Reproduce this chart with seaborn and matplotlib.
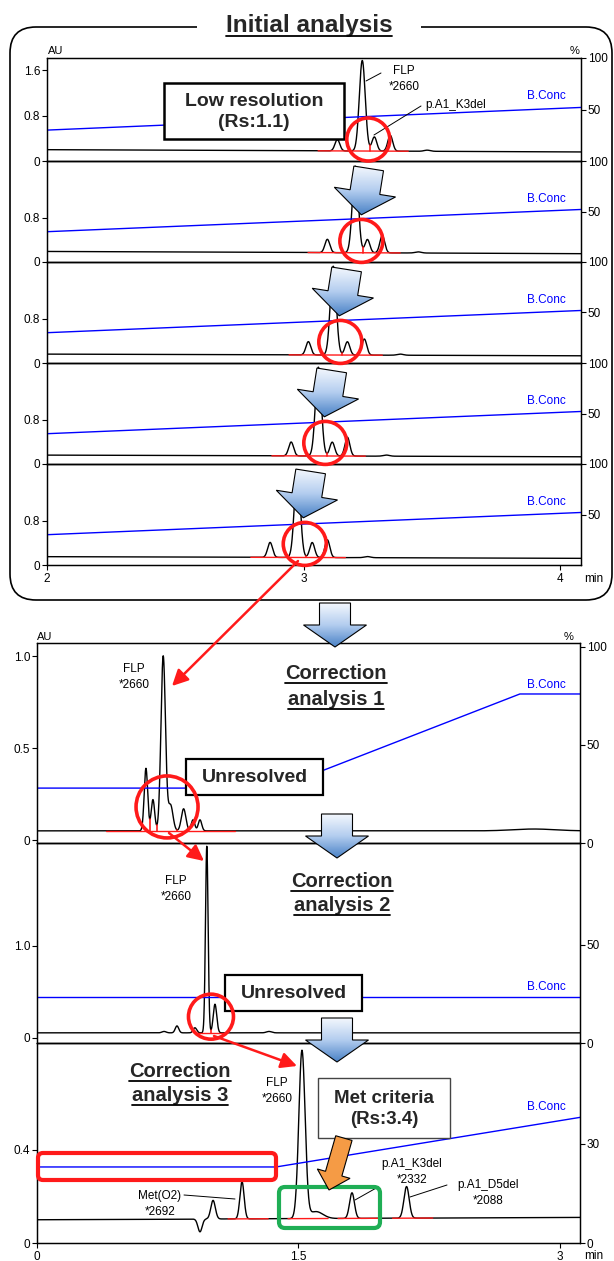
import numpy as np
import pandas as pd
import matplotlib.pyplot as plt
import matplotlib.patches as mpatches
from matplotlib.colors import LinearSegmentedColormap
import seaborn as sns

W, H = 614, 1261

# ---------------- values ----------------
# Initial analysis, five runs. Peak order: pre-peak, FLP, p.A1_K3del, post-peak, small bump
init_peak_t = [
    [3.131, 3.228, 3.275, 3.337, 3.481],
    [3.092, 3.201, 3.248, 3.306, 3.446],
    [3.018, 3.115, 3.170, 3.236, 3.376],
    [2.951, 3.057, 3.111, 3.170, 3.322],
    [2.869, 2.975, 3.033, 3.092, 3.248],
]
init_peak_h = [
    [0.20, 1.60, 0.25, 0.28, 0.02],
    [0.24, 1.56, 0.24, 0.31, 0.02],
    [0.24, 1.60, 0.24, 0.29, 0.02],
    [0.25, 1.60, 0.25, 0.34, 0.02],
    [0.27, 1.58, 0.27, 0.32, 0.02],
]
init_peak_w = [0.0095, 0.0115, 0.0095, 0.0095, 0.012]
init_baseline = [[0.20, 0.16], [0.19, 0.15], [0.16, 0.13], [0.16, 0.13], [0.15, 0.12]]
init_time = [2.0, 4.08]
init_conc = [30, 52]
init_au_ticks = [[0, 0.8, 1.6], [0, 0.8], [0, 0.8], [0, 0.8], [0, 0.8]]
init_pct_ticks = [50, 100]
init_x_ticks = [2, 3, 4]

# Correction analysis 1
c1_peak_t = [0.625, 0.665, 0.724, 0.766, 0.841, 0.895, 0.935, 2.85]
c1_peak_h = [0.34, 0.17, 0.95, 0.14, 0.12, 0.06, 0.06, 0.01]
c1_peak_w = [0.010, 0.010, 0.013, 0.014, 0.013, 0.010, 0.010, 0.12]
c1_baseline = [0.05, 0.05]
c1_conc_t = [0.0, 1.38, 2.77, 3.115]
c1_conc = [28, 28, 76, 76]

# Correction analysis 2
c2_peak_t = [0.729, 0.803, 0.906, 0.974, 1.021, 1.331]
c2_peak_h = [0.015, 0.075, 0.055, 2.02, 0.31, 0.015]
c2_peak_w = [0.012, 0.010, 0.010, 0.0075, 0.010, 0.015]
c2_baseline = [0.055, 0.055]
c2_conc_t = [0.0, 3.115]
c2_conc = [23.5, 23.5]

# Correction analysis 3. Peak order: dip, small peak, Met(O2), FLP, FLP tail, p.A1_K3del, p.A1_D5del
c3_peak_t = [0.935, 1.010, 1.176, 1.520, 1.600, 1.807, 2.120]
c3_peak_h = [-0.055, 0.08, 0.16, 0.72, 0.03, 0.11, 0.136]
c3_peak_w = [0.012, 0.013, 0.012, 0.018, 0.04, 0.014, 0.015]
c3_baseline = [0.10, 0.11]
c3_conc_t = [0.0, 1.371, 3.115]
c3_conc = [23, 23, 38]
c_time = [0.0, 3.115]
c3_x_ticks = [0, 1.5, 3]

RED = '#ff1a1a'
BLUE = '#0000ff'

sns.set_style('white')
FONT = ['Liberation Sans', 'DejaVu Sans']
plt.rcParams['font.family'] = FONT
plt.rcParams['axes.edgecolor'] = 'black'
plt.rcParams['axes.linewidth'] = 0.9

fig = plt.figure(figsize=(W / 100, H / 100), dpi=100)


def chromatogram(t, pk_t, pk_h, pk_w, base, t_lim):
    y = np.interp(t, t_lim, base)
    for c, h, w in zip(pk_t, pk_h, pk_w):
        y = y + h * np.exp(-0.5 * ((t - c) / w) ** 2)
    return y


def fmt(v):
    return '0' if v == 0 else ('%g' % v if v != int(v) else '%d' % v)


def panel(box, t_lim, au_lim, pct_lim, pk_t, pk_h, pk_w, base, conc_t, conc_v,
          au_ticks, au_labels, pct_ticks, x_ticks=None, x_labels=None):
    left, top, right, bottom = box
    ax = fig.add_axes([left / W, 1 - bottom / H, (right - left) / W, (bottom - top) / H])
    t = np.linspace(t_lim[0], t_lim[1], 5000)
    sig = chromatogram(t, pk_t, pk_h, pk_w, base, t_lim)
    sns.lineplot(x=t, y=sig, ax=ax, color='black', lw=1.0, estimator=None)
    ax2 = ax.twinx()
    sns.lineplot(x=conc_t, y=conc_v, ax=ax2, color=BLUE, lw=1.0, estimator=None)
    ax.set_xlim(t_lim)
    ax.set_ylim(au_lim)
    ax2.set_ylim(pct_lim)
    ax.set_yticks(au_ticks)
    ax.set_yticklabels(au_labels)
    ax2.set_yticks(pct_ticks)
    ax2.set_yticklabels([str(v) for v in pct_ticks])
    if x_ticks is None:
        ax.set_xticks([])
    else:
        ax.set_xticks(x_ticks)
        ax.set_xticklabels(x_labels)
    for a in (ax, ax2):
        a.set_xlabel('')
        a.set_ylabel('')
        a.tick_params(length=3.5, width=0.8, pad=1.5, labelsize=8.5, colors='black')
        for s in a.spines.values():
            s.set_color('black')
            s.set_linewidth(0.9)
    ax.tick_params(axis='y', left=True)
    ax.tick_params(axis='x', bottom=x_ticks is not None, pad=2.5, labelsize=8.5)
    ax2.tick_params(axis='y', right=True)
    ax.patch.set_visible(False)
    return ax, t, sig


def integrate_marks(ax, t, sig, base, t_lim, seg, drops):
    bl = lambda x: np.interp(x, t_lim, base)
    for a, b in seg:
        ax.plot([a, b], [bl(a), bl(b)], color=RED, lw=1.0, zorder=3)
    for ta, tb in drops:
        m = (t >= ta) & (t <= tb)
        i = np.argmin(sig[m])
        tv, yv = t[m][i], sig[m][i]
        ax.plot([tv, tv], [bl(tv), yv], color=RED, lw=1.2, zorder=3)


# ---------------- initial analysis panels ----------------
bounds = [58, 161, 262, 363, 464, 565]
init_axes = []
for i in range(5):
    xt = init_x_ticks if i == 4 else None
    ax, t, sig = panel((47, bounds[i], 581, bounds[i + 1]), init_time, (0, 1.82), (0, 100),
                       init_peak_t[i], init_peak_h[i], init_peak_w, init_baseline[i],
                       init_time, init_conc, init_au_ticks[i], [fmt(v) for v in init_au_ticks[i]],
                       init_pct_ticks, xt, None if xt is None else [str(v) for v in xt])
    pt = init_peak_t[i]
    integrate_marks(ax, t, sig, init_baseline[i], init_time,
                    [(pt[0] - 0.075, pt[3] + 0.07)], [(pt[1], pt[2])])
    init_axes.append(ax)

# ---------------- correction panels ----------------
ax_c1, t1, s1 = panel((37, 643, 580, 843), c_time, (-0.016, 1.071), (1, 102),
                      c1_peak_t, c1_peak_h, c1_peak_w, c1_baseline, c1_conc_t, c1_conc,
                      [0, 0.5, 1.0], ['0', '0.5', '1.0'], [0, 50, 100])
integrate_marks(ax_c1, t1, s1, c1_baseline, c_time, [(0.395, 1.136)],
                [(c1_peak_t[0], c1_peak_t[1]), (c1_peak_t[1], c1_peak_t[2]), (c1_peak_t[3], c1_peak_t[4])])

ax_c2, t2, s2 = panel((37, 843, 580, 1043), c_time, (-0.055, 2.11), (0, 102),
                      c2_peak_t, c2_peak_h, c2_peak_w, c2_baseline, c2_conc_t, c2_conc,
                      [0, 1.0], ['0', '1.0'], [0, 50])
integrate_marks(ax_c2, t2, s2, c2_baseline, c_time, [(0.92, 1.08)], [(c2_peak_t[3], c2_peak_t[4])])

ax_c3, t3, s3 = panel((37, 1043, 580, 1243), c_time, (0, 0.86), (0, 60.5),
                      c3_peak_t, c3_peak_h, c3_peak_w, c3_baseline, c3_conc_t, c3_conc,
                      [0, 0.4], ['0', '0.4'], [0, 30], c3_x_ticks, ['0', '1.5', '3'])
integrate_marks(ax_c3, t3, s3, c3_baseline, c_time,
                [(c3_peak_t[k] - 0.08, c3_peak_t[k] + 0.15) for k in (2, 3, 5, 6)], [])


def px_of(ax, x, y):
    dx, dy = ax.transData.transform((x, y))
    return dx, H - dy


# ---------------- overlay with annotations ----------------
ov = fig.add_axes([0, 0, 1, 1])
ov.set_xlim(0, W)
ov.set_ylim(H, 0)
ov.set_autoscale_on(False)
ov.axis('off')
renderer = fig.canvas.get_renderer()

ov.add_patch(mpatches.FancyBboxPatch((10, 27), 602, 573, boxstyle='round,pad=0,rounding_size=26',
                                     fc='none', ec='black', lw=1.2, zorder=1))
ov.add_patch(mpatches.Rectangle((197, 17), 224, 20, fc='white', ec='none', zorder=2))


def heading(x, y, s, size, gap=3.5):
    txt = ov.text(x, y, s, ha='center', va='baseline', fontsize=size, fontweight='bold', zorder=6)
    bb = txt.get_window_extent(renderer=renderer)
    ov.plot([bb.x0, bb.x1], [y + gap, y + gap], color='black', lw=1.3, zorder=6)


heading(309, 32, 'Initial analysis', 17.5)
heading(336, 679, 'Correction', 14.5)
heading(336, 705, 'analysis 1', 14.5)
heading(342, 887, 'Correction', 14.5)
heading(342, 911, 'analysis 2', 14.5)
heading(180, 1077, 'Correction', 14.5)
heading(180, 1101, 'analysis 3', 14.5)


def note(x0, y0, x1, y1, s, size, ec='black', lw=1.6):
    ov.add_patch(mpatches.Rectangle((x0, y0), x1 - x0, y1 - y0, fc='white', ec=ec, lw=lw, zorder=5))
    ov.text((x0 + x1) / 2, (y0 + y1) / 2 + 1, s, ha='center', va='center', fontsize=size,
            fontweight='bold', linespacing=1.25, zorder=6)


# small labels
def small(x, y, s, ha='center', color='black', size=8.5):
    ov.text(x, y, s, ha=ha, va='center', fontsize=size, color=color, linespacing=1.4, zorder=6)


def leader(p, q):
    ov.plot([p[0], q[0]], [p[1], q[1]], color='black', lw=0.7, zorder=6)


small(404, 79, 'FLP\n*2660')
leader((366, 81), (381, 73))
small(425, 105, 'p.A1_K3del', ha='left')
leader((374, 135), (421, 106))
small(134, 677, 'FLP\n*2660')
small(176, 889, 'FLP\n*2660')
small(277, 1091, 'FLP\n*2660')
small(160, 1204, 'Met(O2)\n*2692')
leader((184, 1195), (235, 1199))
small(412, 1172, 'p.A1_K3del\n*2332')
leader((355, 1200), (378, 1187))
small(488, 1193, 'p.A1_D5del\n*2088')
leader((410, 1197), (447, 1185))

for i in range(5):
    small(566, bounds[i] + 38, 'B.Conc', ha='right', color=BLUE)
small(566, 685, 'B.Conc', ha='right', color=BLUE)
small(566, 987, 'B.Conc', ha='right', color=BLUE)
small(566, 1107, 'B.Conc', ha='right', color=BLUE)

small(48, 51, 'AU', ha='left', size=8)
small(580, 51, '%', ha='right', size=8)
small(37, 637, 'AU', ha='left', size=8)
small(573, 637, '%', ha='right', size=8)
small(584, 579, 'min', ha='left')
small(584, 1256, 'min', ha='left')

note(164, 83, 344, 139, 'Low resolution\n(Rs:1.1)', 14, lw=1.8)
note(186, 759, 323, 795, 'Unresolved', 14)
note(225, 975, 362, 1011, 'Unresolved', 14)
note(318, 1078, 450, 1138, 'Met criteria\n(Rs:3.4)', 13.5, ec='#444444', lw=1.0)

# red circles around the critical pair
for i, ax in enumerate(init_axes):
    cx, cy = px_of(ax, (init_peak_t[i][1] + init_peak_t[i][2]) / 2, 0.38)
    ov.add_patch(mpatches.Circle((cx, cy), 21.5, fc='none', ec=RED, lw=2.6, zorder=6))
cx, cy = px_of(ax_c1, 0.746, 0.18)
ov.add_patch(mpatches.Circle((cx, cy), 31, fc='none', ec=RED, lw=2.6, zorder=6))
cx, cy = px_of(ax_c2, 0.998, 0.23)
ov.add_patch(mpatches.Circle((cx, cy), 22.5, fc='none', ec=RED, lw=2.6, zorder=6))

# red boxes
ov.add_patch(mpatches.FancyBboxPatch((38, 1153), 238, 27, boxstyle='round,pad=0,rounding_size=5',
                                     fc='none', ec=RED, lw=3, zorder=6))
ov.add_patch(mpatches.FancyBboxPatch((279, 1187), 101, 41, boxstyle='round,pad=0,rounding_size=6',
                                     fc='none', ec='#1fae55', lw=3, zorder=6))

# red link arrows
for start, end in [((298, 561), (172, 686)), ((169, 833), (204, 861)), ((214, 1036), (297, 1066))]:
    ov.annotate('', xy=end, xytext=start, zorder=7,
                arrowprops=dict(arrowstyle='-|>,head_length=0.8,head_width=0.4', color=RED,
                                lw=1.8, mutation_scale=12, shrinkA=0, shrinkB=0))

blue_grad = LinearSegmentedColormap.from_list('bluegrad', ['#f3f7fd', '#b3cdef', '#4a82c6'])


def block_arrow(tip, length, shaft_w, head_w, head_len, angle, cmap=None, face=None):
    pts = np.array([[0, 0], [head_w / 2, -head_len], [shaft_w / 2, -head_len],
                    [shaft_w / 2, -length], [-shaft_w / 2, -length],
                    [-shaft_w / 2, -head_len], [-head_w / 2, -head_len]])
    a = np.deg2rad(angle)
    rot = np.array([[np.cos(a), -np.sin(a)], [np.sin(a), np.cos(a)]])
    pts = pts @ rot.T + np.asarray(tip)
    if cmap is not None:
        clip = mpatches.Polygon(pts, closed=True, fc='none', ec='none')
        ov.add_patch(clip)
        grad = np.linspace(0, 1, 64).reshape(-1, 1)
        im = ov.imshow(grad, cmap=cmap, aspect='auto', zorder=8, interpolation='bilinear',
                       extent=[pts[:, 0].min(), pts[:, 0].max(), pts[:, 1].max(), pts[:, 1].min()])
        im.set_clip_path(clip)
    ov.add_patch(mpatches.Polygon(pts, closed=True, fc=face if face else 'none',
                                  ec='black', lw=0.8, zorder=9))


for i in range(1, 5):
    tx, ty = px_of(init_axes[i], init_peak_t[i][1], 0.85)
    block_arrow((tx + 6, ty), 47, 30, 62, 23, 9, cmap=blue_grad)
for tip in [(335, 647), (337, 858), (337, 1062)]:
    block_arrow(tip, 44, 31, 63, 22, 0, cmap=blue_grad)
block_arrow((329, 1190), 54, 17, 34, 17, 16, face='#f59b45')

ov.set_xlim(0, W)
ov.set_ylim(H, 0)

fig.savefig('out.png', dpi=100)
